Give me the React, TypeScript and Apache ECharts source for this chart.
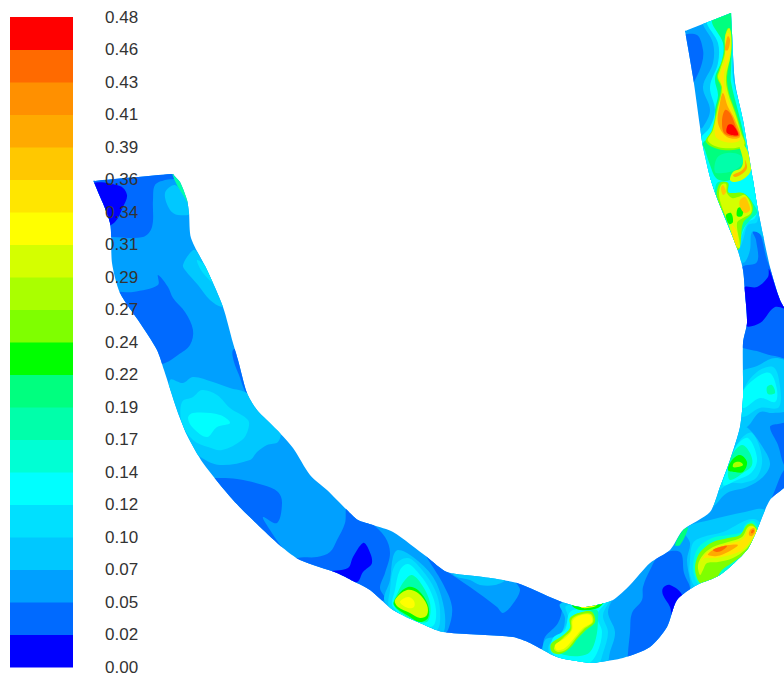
import React, { useEffect, useRef } from "react";
import * as echarts from "echarts";

const tickLabels = ["0.00","0.02","0.05","0.07","0.10","0.12","0.14","0.17","0.19","0.22","0.24","0.27","0.29","0.31","0.34","0.36","0.39","0.41","0.43","0.46","0.48"];
const levelColors = ["#0000ff","#006aff","#00a0ff","#00c8ff","#00e0ff","#00ffff","#00ffd4","#00ffaa","#00ff7f","#00ff00","#7fff00","#aaff00","#d4ff00","#ffff00","#ffe600","#ffc800","#ffaa00","#ff9000","#ff6a00","#ff0000"];
const legendLevels = levelColors.map((_, i) => i);

const riverOutline: number[][] = [[93.5,181],[95,180.9],[171,174.1],[173,174],[174,175.5],[180,182],[187,200],[189,213],[191,238],[207,270],[223,307],[233,343],[238,360],[247,393],[257,410],[277,430],[293,448],[310,475],[327,490],[347,510],[358,520],[373,525],[393,532],[427,557],[447,572],[483,577],[517,583],[557,600],[580,607],[597,605],[613,600],[630,585],[650,563],[670,550],[683,530],[710,512],[720,487],[730,460],[740,427],[743,397],[743,343],[747,323],[745,293],[743,270],[737,248],[717,198],[710,177],[703,147],[700,127],[693,77],[685.4,33],[685,31],[687,30.2],[729,13.7],[731,13],[731.1,15],[732,33],[735,83],[743,120],[748,150],[753,180],[758,210],[770,267],[780,300],[790,320],[790,480],[770,500],[757,530],[747,550],[720,575],[697,585],[677,600],[667,627],[650,647],[623,658],[600,662],[590,663],[557,657],[530,643],[513,637],[443,632],[420,623],[393,610],[370,590],[353,581],[337,573],[300,560],[283,548],[260,527],[233,500],[203,463],[187,435],[177,410],[164,370],[157,350],[140,323],[120,293],[112,263],[110,223],[94.5,183.5]];

// Contour bands: [level index, boundary], painted in order.
const upstreamBands: [number, number[][]][] = [
  [1,[[85,170],[150,170],[175,170],[176,178],[165,180],[155,185],[153,200],[152,227],[143,237],[112,237],[100,237]]],
  [0,[[92,184],[120,186],[127,195],[123,207],[115,222],[105,226],[98,205]]],
  [3,[[165,193],[175,185],[185,198],[192,213],[178,215],[170,210]]],
  [7,[[172,172],[180,180],[188,198],[191,208],[183,195],[176,183]]],
  [3,[[183,265],[190,253],[195,250],[210,268],[228,303],[222,307],[210,300],[198,285],[185,270]]],
  [4,[[197,260],[208,268],[216,285],[203,273]]],
  [1,[[112,294],[133,292],[158,285],[158,275],[168,287],[173,298],[185,312],[193,330],[190,345],[178,355],[165,363],[150,365],[130,330]]],
  [1,[[233,350],[234,362],[239,375],[246,393],[250,393],[242,350]]],
  [3,[[170,380],[183,383],[193,377],[213,382],[230,388],[247,393],[257,405],[280,430],[278,442],[267,445],[257,452],[250,460],[220,465],[202,458],[180,440],[170,410]]],
  [4,[[182,402],[193,397],[202,390],[217,395],[230,408],[248,420],[248,430],[242,440],[222,450],[208,447],[193,440],[182,423]]],
  [5,[[188,418],[193,413],[220,415],[230,423],[217,427],[207,437],[193,428]]],
  [1,[[217,478],[237,479],[263,485],[278,492],[282,503],[277,523],[263,517],[270,530],[278,542],[285,552],[255,535],[200,480]]],
];

const bendBands: [number, number[][]][] = [
  [1,[[347,506],[345,523],[337,540],[330,552],[317,557],[297,558],[285,565],[350,600],[385,600],[380,588],[385,573],[390,553],[385,537],[370,522],[358,515]]],
  [0,[[363,543],[368,548],[372,563],[363,572],[357,582],[340,578],[328,572],[348,568],[353,557]]],
  [1,[[425,553],[445,570],[470,587],[497,607],[503,613],[512,605],[520,590],[515,580],[558,596],[562,607],[558,623],[545,637],[540,650],[510,645],[440,640],[448,630],[452,607],[442,582]]],
  [3,[[452,570],[490,574],[505,580],[495,585],[480,585],[470,580],[455,576]]],
  [3,[[393,557],[398,550],[413,557],[433,577],[443,603],[445,627],[440,636],[420,626],[385,602],[390,580]]],
  [4,[[395,565],[408,558],[422,570],[435,590],[440,610],[437,630],[420,626],[390,608],[390,590]]],
  [5,[[400,570],[408,564],[420,575],[430,590],[436,610],[433,626],[418,624],[393,607],[395,590]]],
  [7,[[405,580],[412,575],[422,585],[430,603],[428,621],[416,621],[394,606],[398,592]]],
  [9,[[398,595],[408,587],[418,590],[428,605],[428,618],[420,622],[410,617],[394,605]]],
  [12,[[395,600],[407,590],[418,593],[427,605],[427,615],[420,618],[410,613],[398,607]]],
  [13,[[400,602],[408,597],[414,601],[414,607],[408,608]]],
];

const lowerBlobBands: [number, number[][]][] = [
  [1,[[660,555],[680,552],[684,573],[690,590],[680,610],[672,635],[650,655],[628,665],[628,653],[630,633],[632,613],[642,600],[643,587],[650,570]]],
  [0,[[663,588],[670,585],[682,595],[676,607],[673,620],[670,607],[663,595]]],
  [3,[[560,604],[580,603],[600,601],[615,592],[608,612],[615,632],[610,652],[605,668],[580,670],[545,658],[545,640],[560,635],[565,618]]],
  [4,[[566,606],[585,605],[603,600],[612,596],[603,615],[608,632],[603,653],[597,666],[580,668],[552,658],[549,645],[562,632],[568,618]]],
  [5,[[570,612],[585,608],[600,603],[608,600],[597,615],[602,632],[597,653],[588,664],[575,664],[552,653],[553,638],[565,630]]],
  [7,[[573,616],[585,612],[597,610],[598,620],[596,638],[590,652],[580,656],[565,655],[556,650],[565,637],[572,625]]],
  [10,[[570,618],[582,612],[592,612],[595,622],[586,630],[578,638],[570,648],[560,654],[552,652],[551,644],[562,636],[570,628]]],
  [12,[[572,619],[582,614],[591,614],[593,622],[584,629],[576,638],[567,649],[558,652],[554,648],[564,637],[571,630]]],
  [13,[[573,620],[582,615],[590,615],[592,622],[583,628],[575,637],[565,648],[557,650],[555,645],[565,638],[572,630]]],
  [9,[[572,605],[597,602],[605,600],[598,608],[580,610]]],
  [13,[[580,604],[595,602],[596,606],[582,608]]],
  [3,[[683,530],[690,525],[710,520],[745,512],[765,510],[770,530],[755,550],[730,570],[700,590],[692,590],[690,580],[687,560],[690,543]]],
  [8,[[675,545],[683,530],[688,528],[680,545]]],
  [4,[[693,543],[703,537],[723,532],[747,520],[757,520],[762,530],[750,550],[725,572],[697,587],[690,575],[690,560]]],
  [6,[[693,565],[698,548],[712,538],[728,535],[742,532],[745,525],[753,521],[759,530],[757,540],[745,555],[718,578],[700,585],[695,578]]],
  [10,[[695,568],[697,558],[702,550],[713,542],[728,538],[740,535],[747,525],[753,524],[758,532],[755,540],[747,552],[732,563],[722,570],[715,580],[702,584],[697,578]]],
  [12,[[698,565],[703,555],[713,547],[728,542],[742,537],[748,527],[753,526],[757,532],[753,540],[745,550],[733,558],[718,562],[707,563],[703,570],[700,575]]],
  [14,[[701,562],[707,553],[717,548],[728,544],[743,539],[749,528],[753,527],[756,532],[752,539],[742,550],[730,555],[715,558],[705,558]]],
  [16,[[710,552],[717,548],[728,545],[738,545],[728,552],[717,556],[708,555]]],
  [16,[[750,530],[754,528],[755,532],[752,536],[749,535]]],
  [18,[[713,550],[720,547],[727,546],[723,550],[717,552]]],
  [18,[[752,530],[754,530],[753,533],[751,533]]],
];

const midReachBands: [number, number[][]][] = [
  [3,[[745,427],[750,430],[760,443],[770,463],[763,477],[747,487],[727,493],[713,507],[705,510],[725,470],[735,435]]],
  [4,[[740,440],[752,433],[762,458],[757,477],[743,483],[730,483],[718,490],[730,460]]],
  [5,[[737,445],[748,438],[757,458],[752,472],[737,480],[723,485],[730,463]]],
  [7,[[732,455],[742,445],[750,453],[752,465],[743,473],[730,480],[728,470]]],
  [9,[[732,460],[740,455],[747,462],[743,472],[735,472],[728,470]]],
  [11,[[734,463],[740,462],[743,465],[738,467],[733,467]]],
  [1,[[770,427],[778,424],[790,424],[790,470],[784,465],[778,445]]],
  [1,[[767,512],[775,490],[784,470],[790,470],[790,480],[772,512]]],
  [3,[[738,375],[757,366],[775,358],[790,365],[790,408],[773,413],[760,412],[747,427],[736,430]]],
  [4,[[743,390],[757,372],[773,367],[779,380],[779,407],[760,408],[743,417],[738,410]]],
  [5,[[742,393],[757,377],[770,373],[777,390],[775,402],[760,398],[743,408]]],
  [7,[[767,387],[772,385],[775,393],[768,394]]],
  [1,[[742,267],[757,262],[756,240],[753,232],[760,234],[767,260],[785,305],[795,358],[775,356],[760,352],[738,343],[738,280]]],
  [0,[[744,288],[757,287],[768,277],[769,269],[780,298],[790,310],[775,307],[760,323],[745,325]]],
];

const upperReachBands: [number, number[][]][] = [
  [1,[[683,37],[697,35],[703,50],[702,63],[695,80],[690,85]]],
  [3,[[703,20],[735,10],[738,40],[743,85],[755,135],[760,170],[765,200],[745,210],[712,190],[705,150],[695,133],[703,127],[710,110],[703,87],[713,63],[713,43]]],
  [3,[[708,178],[755,178],[762,210],[768,245],[760,234],[752,232],[750,250],[745,262],[741,262],[735,245]]],
  [4,[[708,178],[755,178],[760,200],[757,222],[748,225],[743,240],[738,250],[725,225]]],
  [5,[[708,178],[752,178],[758,205],[755,218],[748,222],[742,235],[738,247],[717,200]]],
  [5,[[707,20],[732,12],[733,40],[733,77],[741,110],[748,147],[753,178],[730,184],[713,186],[705,160],[700,140],[710,127],[715,110],[710,87],[718,63],[718,43]]],
  [8,[[712,20],[731,13],[732,43],[731,70],[731,82],[737,107],[742,127],[746,147],[749,170],[735,178],[725,181],[716,178],[710,165],[705,150],[703,143],[715,133],[715,110],[718,95],[715,78],[722,60],[723,43]]],
  [7,[[717,158],[727,153],[740,155],[743,162],[735,170],[723,173],[715,172]]],
  [10,[[725,37],[728,28],[731,33],[731,53],[727,77],[729,93],[736,113],[742,133],[745,146],[723,150],[706,142],[712,130],[717,107],[721,88],[717,77],[719,70],[724,53]]],
  [12,[[725,37],[729,28],[731,33],[731,53],[726,77],[728,93],[735,113],[741,133],[744,145],[723,148],[708,141],[713,130],[718,107],[722,88],[718,77],[720,70],[725,53]]],
  [14,[[727,33],[730,35],[730,53],[724,75],[726,93],[733,113],[739,133],[739,141],[725,142],[715,135],[719,110],[723,92],[720,76],[725,60]]],
  [16,[[728,36],[730,40],[728,50],[725,50],[726,42]]],
  [16,[[723,93],[728,107],[735,120],[740,137],[727,137],[718,123],[720,103]]],
  [18,[[725,110],[730,113],[736,127],[739,136],[725,134],[722,122]]],
  [19,[[728,125],[733,125],[738,135],[727,133]]],
  [7,[[716,197],[717,183],[728,183],[729,193],[745,194],[756,208],[757,213],[750,220],[743,230],[738,248],[730,230]]],
  [12,[[739,143],[744,145],[749,155],[751,170],[745,178],[735,182],[730,180],[733,172],[741,168],[743,160]]],
  [16,[[745,160],[747,168],[742,174],[735,177],[733,175],[741,171],[745,166]]],
  [10,[[717,197],[720,183],[728,183],[728,192],[733,193],[743,193],[752,203],[752,213],[743,223],[740,247],[737,250],[730,227]]],
  [12,[[719,195],[721,185],[726,184],[727,193],[732,198],[738,197],[745,195],[751,205],[751,213],[743,218],[737,223],[740,247],[736,247],[728,223],[722,207]]],
  [9,[[726,215],[731,213],[733,222],[729,224]]],
  [9,[[738,208],[743,208],[742,216],[737,216]]],
  [15,[[721,188],[723,185],[726,192],[723,195]]],
  [15,[[740,200],[745,197],[748,202],[750,210],[745,213],[740,207]]],
  [14,[[732,225],[737,232],[737,247],[733,237]]],
];

const contourBands: [number, number[][]][] = [
  [2, riverOutline],
  ...upstreamBands,
  ...bendBands,
  ...lowerBlobBands,
  ...midReachBands,
  ...upperReachBands,
];

export default function App() {
  const ref = useRef<HTMLDivElement>(null);
  useEffect(() => {
    document.body.style.margin = "0";
    const chart = echarts.init(ref.current!, null, { renderer: "svg" });
    chart.setOption({
      animation: false,
      backgroundColor: "#ffffff",
      grid: [
        { left: 0, top: 0, width: 784, height: 679 },
        { left: 10, top: 17, width: 63, height: 650 },
      ],
      xAxis: [
        { type: "value", gridIndex: 0, min: 0, max: 784, show: false },
        { type: "value", gridIndex: 1, min: 0, max: 1, show: false },
      ],
      yAxis: [
        { type: "value", gridIndex: 0, min: 0, max: 679, inverse: true, show: false },
        {
          type: "value",
          gridIndex: 1,
          min: 0,
          max: 20,
          interval: 1,
          position: "right",
          z: 10,
          axisLine: { show: false },
          axisTick: { show: false },
          splitLine: { show: false },
          axisLabel: {
            margin: 32,
            color: "#333333",
            fontFamily: "Liberation Sans",
            fontSize: 17,
            formatter: (v: number) => tickLabels[Math.round(v)],
          },
        },
      ],
      series: [
        {
          type: "custom",
          xAxisIndex: 0,
          yAxisIndex: 0,
          z: 1,
          silent: true,
          data: contourBands.map((_, i) => [i]),
          encode: { x: 0, y: 0 },
          renderItem: (params: any, api: any) => {
            const [level, pts] = contourBands[params.dataIndex];
            const clip = riverOutline.map((c) => api.coord(c));
            const isBase = pts === riverOutline;
            return {
              type: "polygon",
              shape: { points: pts.map((c) => api.coord(c)), smooth: isBase ? 0.25 : 0.35 },
              clipPath: isBase ? undefined : { type: "polygon", shape: { points: clip, smooth: 0.25 } },
              style: { fill: levelColors[level], stroke: null },
            };
          },
        },
        {
          type: "custom",
          xAxisIndex: 1,
          yAxisIndex: 1,
          z: 1,
          silent: true,
          data: legendLevels.map((l) => [l]),
          encode: { x: 0, y: 0 },
          renderItem: (params: any, api: any) => {
            const l = legendLevels[params.dataIndex];
            const a = api.coord([0, l + 1]);
            const b = api.coord([1, l]);
            return {
              type: "rect",
              shape: { x: a[0], y: a[1], width: b[0] - a[0], height: b[1] - a[1] + 0.5 },
              style: { fill: levelColors[l], stroke: null },
            };
          },
        },
      ],
    });
    return () => chart.dispose();
  }, []);
  return <div ref={ref} style={{ position: "absolute", left: 0, top: 0, width: 784, height: 679 }} />;
}
